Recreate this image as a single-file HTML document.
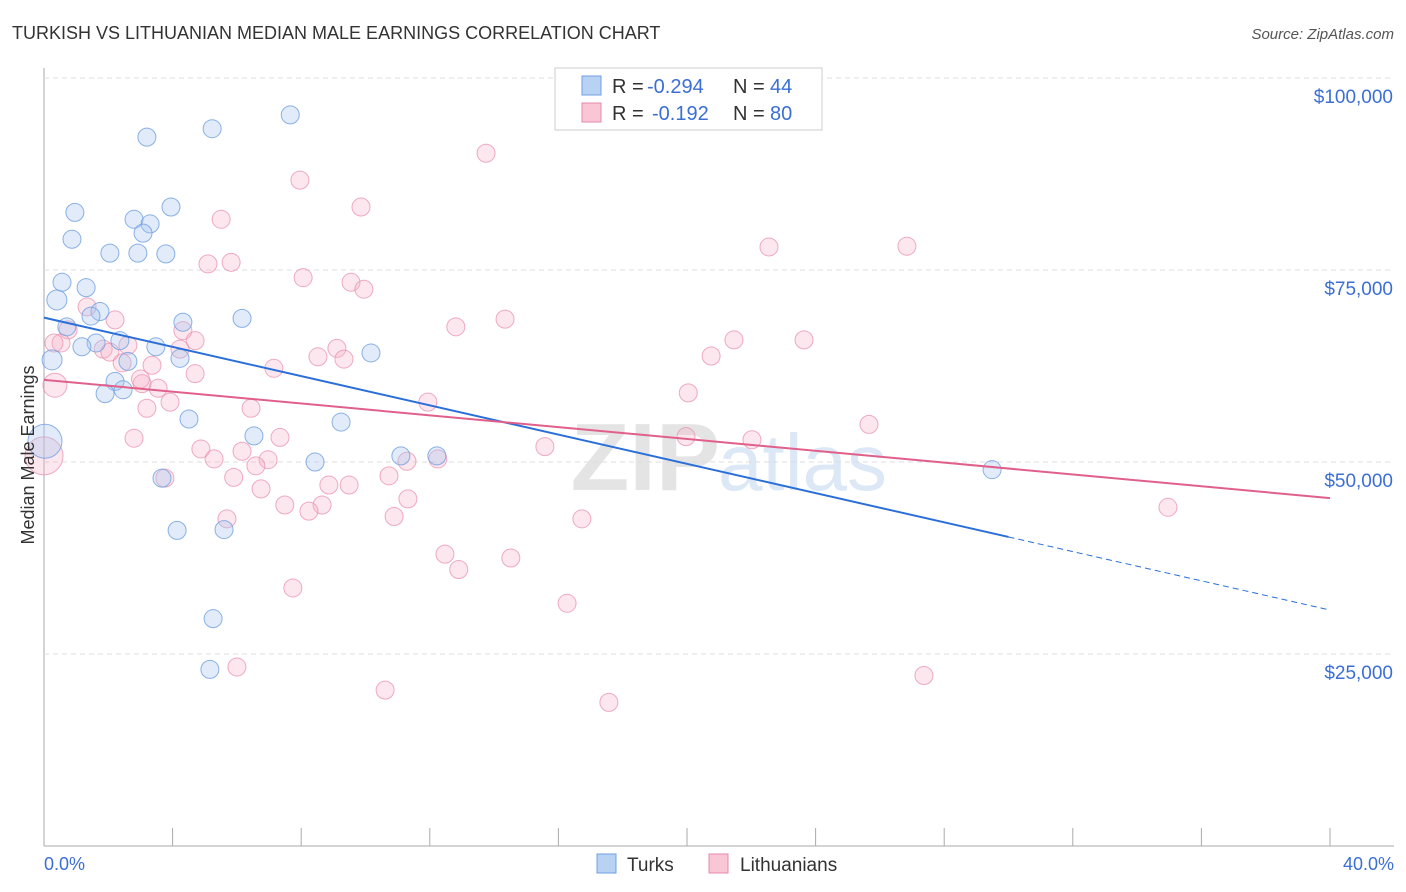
<!DOCTYPE html>
<html><head><meta charset="utf-8"><style>
body{margin:0;background:#fff;font-family:"Liberation Sans",sans-serif;overflow:hidden;}
svg text{font-family:"Liberation Sans",sans-serif;}
</style></head><body>
<svg id="chart" width="1406" height="892" xmlns="http://www.w3.org/2000/svg" style="display:block">
<text x="12" y="39" font-size="18" fill="#333">TURKISH VS LITHUANIAN MEDIAN MALE EARNINGS CORRELATION CHART</text>
<text x="1394" y="39" font-size="15" fill="#555" font-style="italic" text-anchor="end">Source: ZipAtlas.com</text>
<text x="720" y="490" font-size="96" font-weight="bold" fill="#e4e4e4" text-anchor="end">ZIP</text>
<text x="718" y="490" font-size="80" fill="#dce8f6">atlas</text>
<g id="grid"></g><g id="pts"></g><g id="trends"></g>
<text transform="translate(34,455) rotate(-90)" font-size="18" fill="#333" text-anchor="middle">Median Male Earnings</text>
<text x="44" y="870" font-size="18" fill="#3b6fd4">0.0%</text>
<text x="1394" y="870" font-size="18" fill="#3b6fd4" text-anchor="end">40.0%</text>
<g>
<rect x="555" y="68" width="267" height="62" fill="#fff" stroke="#ccc"/>
<rect x="582" y="76" width="19" height="19" fill="#b8d2f4" stroke="#6f9fe0"/>
<rect x="582" y="103" width="19" height="19" fill="#f9c6d5" stroke="#e88aa8"/>
<text x="612" y="93" font-size="20" fill="#333">R =</text>
<text x="647" y="93" font-size="20" fill="#3b6fd4">-0.294</text>
<text x="733" y="93" font-size="20" fill="#333">N =</text>
<text x="770" y="93" font-size="20" fill="#3b6fd4">44</text>
<text x="612" y="120" font-size="20" fill="#333">R =</text>
<text x="652" y="120" font-size="20" fill="#3b6fd4">-0.192</text>
<text x="733" y="120" font-size="20" fill="#333">N =</text>
<text x="770" y="120" font-size="20" fill="#3b6fd4">80</text>
</g>
<g>
<rect x="597" y="854" width="19" height="19" fill="#b8d2f4" stroke="#6f9fe0"/>
<text x="627" y="871" font-size="19" fill="#333">Turks</text>
<rect x="709" y="854" width="19" height="19" fill="#f9c6d5" stroke="#e88aa8"/>
<text x="740" y="871" font-size="19" fill="#333">Lithuanians</text>
</g>
</svg>
<script>
const yTicks=[25000,50000,75000,100000];
const yTickLabels=["$25,000","$50,000","$75,000","$100,000"];
const turksX=[7.66,5.23,3.2,0.96,3.95,2.8,3.3,3.08,0.87,2.05,2.92,3.79,0.56,1.31,0.4,1.74,1.46,4.32,6.16,0.71,1.62,2.36,1.18,3.48,10.17,0.25,4.23,2.61,2.21,2.46,1.9,4.51,9.24,6.53,0.03,8.43,11.1,12.22,29.49,3.67,4.14,5.6,5.26,5.16];
const turksY=[95200,93400,92300,82500,83200,81600,81000,79800,79000,77200,77200,77100,73400,72700,71100,69600,69000,68200,68700,67600,65500,65800,65000,65000,64200,63300,63500,63100,60500,59400,58900,55600,55200,53400,52700,50000,50800,50800,49000,47900,41100,41200,29600,23000];
const lithX=[13.75,7.96,9.86,5.51,22.55,26.84,5.1,5.82,8.06,9.55,9.95,1.34,2.21,14.34,12.81,0.75,4.32,4.7,21.46,23.64,0.53,2.61,1.84,2.05,4.23,9.11,8.52,9.33,20.75,7.15,3.36,2.43,0.34,3.05,3.55,20.04,11.94,3.92,3.2,6.44,25.66,2.8,7.34,15.58,19.97,22.02,4.88,6.16,5.29,6.97,11.29,12.25,0.0,6.59,3.76,10.73,8.86,9.49,6.75,11.32,8.65,7.49,8.24,5.69,10.89,16.73,34.96,12.47,14.52,7.74,16.27,6.0,10.61,17.57,27.37,0.31,4.7,3.0,5.9,12.9];
const lithY=[90200,86700,83200,81600,78000,78100,75800,76000,74000,73400,72500,70200,68500,68600,67600,67200,67100,65800,65900,65900,65500,65200,64700,64300,64700,64800,63700,63400,63800,62200,62600,62900,60000,60200,59600,59000,57800,57800,57000,57000,54900,53100,53200,52000,53300,52900,51700,51400,50400,50300,50100,50400,50800,49500,47900,48200,47000,47000,46500,45200,44400,44400,43600,42600,42900,42600,44100,38000,37500,33600,31600,23300,20300,18700,22200,65500,61500,60800,48000,36000];
const X=v=>44+v/40*1286, Y=v=>846-v/25000*192;
const NS="http://www.w3.org/2000/svg";
function mk(tag,attrs,parent){const e=document.createElementNS(NS,tag);for(const k in attrs)e.setAttribute(k,attrs[k]);parent.appendChild(e);return e;}
const grid=document.getElementById('grid');
const g0=mk('line',{x1:44,y1:68,x2:44,y2:846,stroke:'#aaa'},grid);


const g1=mk('line',{x1:44,y1:846,x2:1394,y2:846,stroke:'#aaa'},grid);


for(let i=1;i<=10;i++){const t=mk('line',{x1:44+i*128.6,y1:828,x2:44+i*128.6,y2:846,stroke:'#aaa'},grid);

}
yTicks.forEach((v,i)=>{const l=mk('line',{x1:44,y1:Y(v),x2:1394,y2:Y(v),stroke:'#ddd','stroke-dasharray':'5,4'},grid);


const t=mk('text',{x:1393,y:Y(v)+25,'font-size':19,fill:'#3b6fd4','text-anchor':'end'},grid);t.textContent=yTickLabels[i];

});
const pts=document.getElementById('pts');
lithX.forEach((x,i)=>{const c=mk('circle',{cx:X(x),cy:Y(lithY[i]),r:(i==52||i==32)?(i==52?19:12):9,fill:'#f5b0c6','fill-opacity':0.3,stroke:'#e88aa8','stroke-opacity':0.7,'stroke-width':1},pts);

});
turksX.forEach((x,i)=>{const c=mk('circle',{cx:X(x),cy:Y(turksY[i]),r:i==34?17:(i==25||i==14?10:9),fill:'#a9c6f0','fill-opacity':0.35,stroke:'#6f9fe0','stroke-opacity':0.8,'stroke-width':1},pts);

});
const tr=document.getElementById('trends');
const ta=68800,tb=-952,la=60700,lb=-385;
let e=mk('line',{x1:X(0),y1:Y(ta),x2:X(30),y2:Y(ta+tb*30),stroke:'#2a6fd8','stroke-width':2},tr);


e=mk('line',{x1:X(30),y1:Y(ta+tb*30),x2:X(40),y2:Y(ta+tb*40),stroke:'#2a6fd8','stroke-width':1,'stroke-dasharray':'6,4'},tr);


e=mk('line',{x1:X(0),y1:Y(la),x2:X(40),y2:Y(la+lb*40),stroke:'#e0608a','stroke-width':2},tr);


</script>
</body></html>
